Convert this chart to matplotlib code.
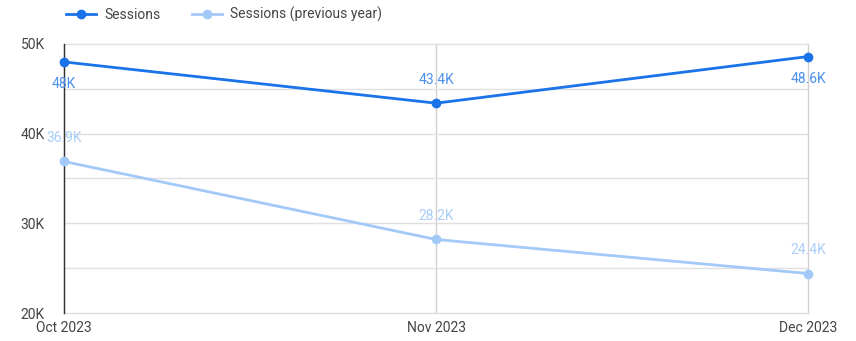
import matplotlib.pyplot as plt
from matplotlib.ticker import FuncFormatter, MultipleLocator

months = ['Oct 2023', 'Nov 2023', 'Dec 2023']
sessions = [48000, 43400, 48600]
sessions_prev = [36900, 28200, 24400]
sessions_labels = ['48K', '43.4K', '48.6K']
prev_labels = ['36.9K', '28.2K', '24.4K']

dark_blue = '#1a73e8'
light_blue = '#a3c9f8'
grid_col = '#e0e0e0'
text_col = '#444444'

plt.rcParams['font.family'] = ['Roboto', 'DejaVu Sans']

fig = plt.figure(figsize=(8.56, 3.41), dpi=100)
ax = fig.add_axes([0.0748, 0.0821, 0.8692, 0.7889])

x = list(range(len(months)))
ax.plot(x, sessions, color=dark_blue, lw=2, marker='o', ms=6, label='Sessions', zorder=4, clip_on=False)
ax.plot(x, sessions_prev, color=light_blue, lw=2, marker='o', ms=6, label='Sessions (previous year)',
        zorder=3, clip_on=False)

# data labels: Oct/Dec sessions below the point, the rest above
below = [True, False, True]
for i, (v, lab) in enumerate(zip(sessions, sessions_labels)):
    dy = -16 if below[i] else 17
    ax.annotate(lab, (i, v), xytext=(0, dy), textcoords='offset points', ha='center', va='center',
                color='#4a90ee', fontsize=10, zorder=5)
for i, (v, lab) in enumerate(zip(sessions_prev, prev_labels)):
    ax.annotate(lab, (i, v), xytext=(0, 17), textcoords='offset points', ha='center', va='center',
                color='#a9cdf9', fontsize=10, zorder=5)

ax.set_xlim(0, 2)
ax.set_ylim(20000, 50000)
ax.set_xticks(x)
ax.set_xticklabels(months)
ax.yaxis.set_major_locator(MultipleLocator(10000))
ax.yaxis.set_minor_locator(MultipleLocator(5000))
ax.yaxis.set_major_formatter(FuncFormatter(lambda v, p: '%dK' % (v / 1000)))
ax.grid(True, which='both', axis='y', color=grid_col, lw=1)
ax.grid(True, which='major', axis='x', color='#d0d0d0', lw=1)
ax.set_axisbelow(True)
for gl in ax.get_xgridlines() + ax.get_ygridlines():
    gl.set_clip_on(False)
ax.tick_params(axis='both', which='both', length=0, colors=text_col, labelsize=10)
ax.tick_params(axis='y', pad=14)
ax.tick_params(axis='x', pad=6)
for s in ['top', 'right', 'bottom']:
    ax.spines[s].set_visible(False)
ax.spines['left'].set_color('#333333')
ax.spines['left'].set_linewidth(1)
ax.spines['left'].set_zorder(2)

leg = ax.legend(loc='lower left', bbox_to_anchor=(-0.005, 1.06), ncol=2, frameon=False, fontsize=10,
                handlelength=2.2, columnspacing=2.2, handletextpad=0.6, borderaxespad=0)
for t in leg.get_texts():
    t.set_color(text_col)

fig.savefig('out.png', dpi=100)
